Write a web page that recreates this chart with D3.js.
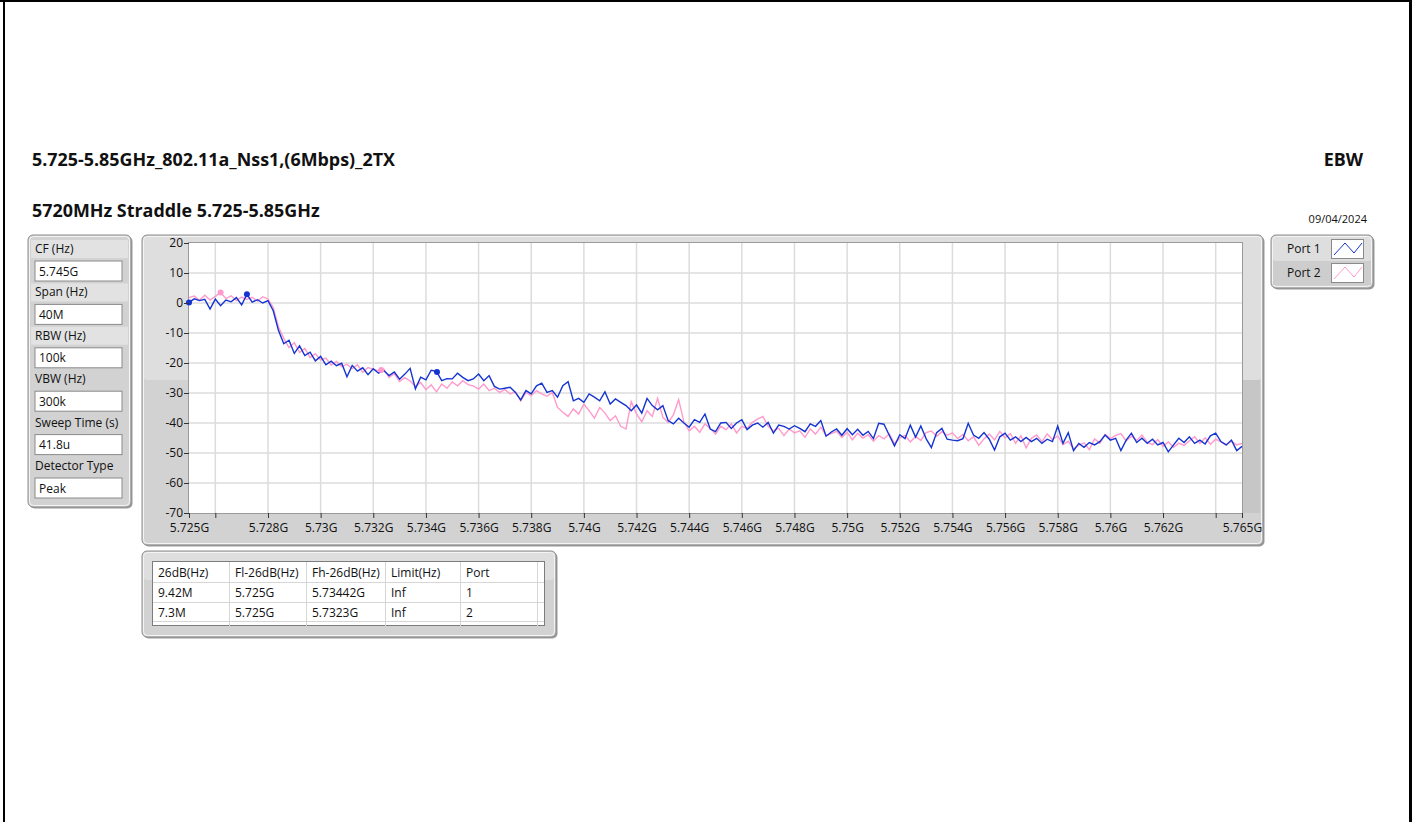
<!DOCTYPE html>
<html>
<head>
<meta charset="utf-8">
<script src="https://cdn.jsdelivr.net/npm/d3@7"></script>
<style>
body{margin:0;background:#fff;}
text{font-family:"Open Sans",sans-serif;fill:#111;}
</style>
</head>
<body>
<svg id="chart"></svg>
<script>
// sweep: start frequency and step (GHz), one value per step
var fStart=5.725, fStep=0.0002;

var port1=[
0.2,1.4,0.8,1.2,-2.0,1.3,-0.9,1.0,0.4,1.8,
-0.6,2.9,0.3,1.1,0.0,0.8,-2.6,-9.2,-13.6,-12.4,
-16.8,-14.3,-17.5,-16.4,-19.3,-17.8,-20.6,-19.4,-20.9,-20.1,
-24.6,-20.8,-22.7,-21.6,-23.9,-21.9,-23.4,-22.5,-24.2,-23.0,
-25.4,-23.7,-21.8,-28.6,-24.7,-25.6,-22.4,-22.8,-25.9,-25.2,
-25.3,-23.4,-24.8,-25.9,-25.3,-23.7,-25.9,-24.2,-27.8,-28.7,
-28.4,-28.1,-29.8,-32.3,-29.2,-30.3,-27.6,-26.7,-29.8,-29.2,
-31.4,-27.6,-26.2,-32.6,-31.8,-33.1,-30.3,-31.4,-32.6,-29.6,
-33.7,-32.0,-33.1,-34.2,-35.9,-34.0,-36.7,-31.8,-34.2,-35.6,
-34.2,-39.2,-40.3,-38.4,-40.0,-41.4,-38.9,-39.8,-37.0,-42.0,
-42.9,-40.0,-39.8,-41.8,-40.0,-38.9,-42.2,-40.7,-40.0,-41.4,
-39.8,-43.4,-40.7,-41.1,-42.0,-40.9,-41.8,-42.9,-40.3,-41.1,
-39.2,-44.4,-43.0,-42.0,-44.1,-41.9,-43.9,-42.1,-44.1,-42.8,
-45.2,-40.1,-40.4,-44.1,-47.6,-43.9,-45.2,-40.7,-44.7,-41.0,
-45.2,-48.2,-43.2,-41.8,-45.4,-45.7,-45.9,-45.2,-40.1,-44.0,
-45.1,-43.2,-45.4,-49.0,-44.6,-43.4,-45.7,-44.6,-46.2,-44.8,
-46.2,-45.1,-46.8,-45.4,-46.2,-41.0,-46.8,-43.2,-49.2,-46.8,
-48.1,-46.5,-47.3,-46.2,-44.0,-45.7,-45.1,-49.2,-45.7,-43.4,
-46.5,-45.1,-46.8,-45.4,-47.3,-46.5,-49.6,-47.3,-45.1,-46.5,
-44.6,-46.8,-45.7,-47.0,-44.3,-43.4,-46.2,-47.3,-45.7,-49.2,
-47.8];

var port2=[
1.8,2.3,0.9,2.6,1.0,2.2,3.5,1.5,2.4,0.8,
2.0,1.2,1.9,0.6,2.1,1.3,-1.5,-8.0,-11.8,-14.9,
-13.2,-16.5,-15.1,-18.2,-16.9,-19.0,-18.4,-20.7,-19.5,-21.2,
-20.4,-21.9,-20.6,-23.1,-21.5,-22.1,-22.6,-22.0,-24.8,-23.5,
-26.2,-24.9,-26.0,-27.8,-26.5,-28.9,-27.3,-29.6,-27.0,-28.4,
-26.3,-27.6,-25.9,-27.2,-27.6,-28.7,-27.0,-29.2,-28.4,-29.8,
-28.9,-30.3,-29.6,-32.6,-29.8,-30.9,-29.2,-30.3,-31.1,-29.8,
-34.8,-36.4,-37.8,-35.3,-37.0,-33.7,-35.9,-38.4,-34.8,-36.7,
-39.2,-37.6,-41.1,-42.0,-32.9,-37.0,-39.6,-35.9,-37.8,-31.8,
-38.1,-39.8,-37.3,-32.2,-39.6,-42.6,-41.1,-43.1,-40.3,-41.8,
-43.7,-41.1,-42.2,-40.3,-43.3,-41.1,-41.8,-39.8,-38.7,-37.8,
-41.1,-42.6,-41.8,-44.2,-42.0,-43.3,-42.6,-44.8,-42.0,-43.7,
-41.4,-44.2,-43.5,-42.8,-44.8,-43.1,-45.6,-43.4,-45.0,-43.9,
-46.1,-44.2,-45.3,-43.6,-46.9,-45.0,-44.1,-46.3,-44.5,-45.8,
-43.2,-42.7,-44.4,-42.9,-44.1,-43.3,-45.2,-43.8,-45.9,-44.6,
-47.4,-45.3,-43.7,-45.6,-42.8,-44.9,-43.5,-46.8,-44.2,-48.3,
-45.1,-44.0,-46.2,-43.6,-45.5,-44.3,-47.2,-46.1,-48.7,-47.4,
-46.6,-48.9,-45.3,-46.7,-43.8,-45.2,-44.1,-43.5,-46.0,-44.4,
-45.8,-44.0,-46.4,-47.2,-45.5,-47.8,-46.3,-48.1,-46.7,-47.5,
-45.9,-44.6,-46.8,-44.9,-47.1,-45.4,-46.3,-47.4,-46.1,-47.3,
-46.8];

// peak and -26 dB markers
var markers1=[{f:5.725,v:0.2},{f:5.7272,v:2.9},{f:5.73442,v:-23.0}];
var markers2=[{f:5.7262,v:3.5},{f:5.7323,v:-22.3}];

var yTicks=[20,10,0,-10,-20,-30,-40,-50,-60,-70];
var xTicks=[5.725,5.726,5.728,5.73,5.732,5.734,5.736,5.738,5.74,5.742,5.744,5.746,5.748,5.75,5.752,5.754,5.756,5.758,5.76,5.762,5.764,5.765];
var xUnlabeled=[5.726,5.764];
var xGrid=[5.726,5.728,5.73,5.732,5.734,5.736,5.738,5.74,5.742,5.744,5.746,5.748,5.75,5.752,5.754,5.756,5.758,5.76,5.762,5.764];

var paramLabels=["CF (Hz)","Span (Hz)","RBW (Hz)","VBW (Hz)","Sweep Time (s)","Detector Type"];
var paramValues=["5.745G","40M","100k","300k","41.8u","Peak"];

var legendNames=["Port 1","Port 2"];
var colors=["#1434d2","#ff9acb"];

var tableHead=["26dB(Hz)","Fl-26dB(Hz)","Fh-26dB(Hz)","Limit(Hz)","Port"];
var tableRows=[["9.42M","5.725G","5.73442G","Inf","1"],["7.3M","5.725G","5.7323G","Inf","2"]];

var W=1415, H=822;
var svg=d3.select("#chart").attr("width",W).attr("height",H);

// page frame
svg.append("rect").attr("x",0).attr("y",0).attr("width",W).attr("height",H).attr("fill","#fff");
svg.append("line").attr("x1",0).attr("x2",1412).attr("y1",1).attr("y2",1).attr("stroke","#000").attr("stroke-width",2);
svg.append("line").attr("x1",4).attr("x2",4).attr("y1",0).attr("y2",H).attr("stroke","#000").attr("stroke-width",2);
svg.append("line").attr("x1",1410.5).attr("x2",1410.5).attr("y1",0).attr("y2",H).attr("stroke","#000").attr("stroke-width",3);

// titles
svg.append("text").attr("x",32).attr("y",166).text("5.725-5.85GHz_802.11a_Nss1,(6Mbps)_2TX")
  .style("font-size","17.9px").style("font-weight","700");
svg.append("text").attr("x",1363).attr("y",166).attr("text-anchor","end").text("EBW")
  .style("font-size","17.9px").style("font-weight","700");
svg.append("text").attr("x",32).attr("y",217).text("5720MHz Straddle 5.725-5.85GHz")
  .style("font-size","17.9px").style("font-weight","700");
svg.append("text").attr("x",1367).attr("y",223).attr("text-anchor","end").text("09/04/2024")
  .style("font-size","11px");

// grey LabVIEW-like panel
var panel=function(x,y,w,h,split)
{
  svg.append("rect").attr("x",x+1.5).attr("y",y+1.5).attr("width",w).attr("height",h)
    .attr("rx",5).attr("fill","#9a9a9a");
  svg.append("rect").attr("x",x).attr("y",y).attr("width",w).attr("height",h)
    .attr("rx",5).attr("fill","#d2d2d2").attr("stroke","#8e8e8e");
  if(split)
    svg.append("rect").attr("x",x+2).attr("y",y+2).attr("width",w-4).attr("height",split-y-2)
      .attr("rx",3).attr("fill","#dedede");
  svg.append("rect").attr("x",x+1.5).attr("y",y+1.5).attr("width",w-3).attr("height",h-3)
    .attr("rx",4).attr("fill","none").attr("stroke","#f4f4f4");
}

// parameter panel
panel(28,235,103,272,0);
var pg=svg.append("g");
paramLabels.forEach(function(d,i){
  var top=240+i*43.4;
  if(i<3)
    pg.append("rect").attr("x",31).attr("y",top).attr("width",97).attr("height",18).attr("fill","#e2e2e2");
  pg.append("text").attr("x",35).attr("y",top+13).text(d).style("font-size","12px");
  pg.append("rect").attr("x",35).attr("y",top+21).attr("width",87).attr("height",20)
    .attr("fill","#fff").attr("stroke","#8a8a8a");
  pg.append("text").attr("x",39).attr("y",top+35.5).text(paramValues[i]).style("font-size","12px");
});

// graph panel
panel(142,235,1121,310,380);

var margin={left:189,right:1242,top:243,bottom:513};
var x=d3.scaleLinear().domain([5.725,5.765]).range([margin.left,margin.right]);
var y=d3.scaleLinear().domain([-70,20]).range([margin.bottom,margin.top]);

// right strip beside the plot
svg.append("rect").attr("x",1243).attr("y",380).attr("width",17).attr("height",133).attr("fill","#c6c6c6");

svg.append("rect").attr("x",margin.left).attr("y",margin.top)
  .attr("width",margin.right-margin.left).attr("height",margin.bottom-margin.top)
  .attr("fill","#fff");

var grid=svg.append("g");
grid.selectAll("line.v").data(xGrid).enter().append("line").attr("class","v")
  .attr("x1",function(d){return x(d);}).attr("x2",function(d){return x(d);})
  .attr("y1",margin.top).attr("y2",margin.bottom)
  .attr("stroke","#dcdcdc").attr("stroke-width",1.5);
grid.selectAll("line.h").data(yTicks.slice(1,-1)).enter().append("line").attr("class","h")
  .attr("x1",margin.left).attr("x2",margin.right)
  .attr("y1",function(d){return y(d);}).attr("y2",function(d){return y(d);})
  .attr("stroke","#dcdcdc").attr("stroke-width",1.5);

svg.append("rect").attr("x",margin.left-0.5).attr("y",margin.top-0.5)
  .attr("width",margin.right-margin.left+1).attr("height",margin.bottom-margin.top+1)
  .attr("fill","none").attr("stroke","#9a9a9a");

var line=d3.line()
  .x(function(d,i){return x(fStart+i*fStep);})
  .y(function(d){return y(d);});

svg.append("path").datum(port2).attr("d",line)
  .attr("fill","none").attr("stroke",colors[1]).attr("stroke-width",1.4);
svg.append("path").datum(port1).attr("d",line)
  .attr("fill","none").attr("stroke",colors[0]).attr("stroke-width",1.4);

svg.selectAll("circle.m2").data(markers2).enter().append("circle").attr("class","m2")
  .attr("cx",function(d){return x(d.f);}).attr("cy",function(d){return y(d.v);})
  .attr("r",3).attr("fill",colors[1]);
svg.selectAll("circle.m1").data(markers1).enter().append("circle").attr("class","m1")
  .attr("cx",function(d){return x(d.f);}).attr("cy",function(d){return y(d.v);})
  .attr("r",3).attr("fill",colors[0]);

// axes
var yAxis=svg.append("g").attr("transform","translate("+margin.left+",0)")
  .call(d3.axisLeft(y).tickValues(yTicks).tickSize(5).tickPadding(1)
    .tickFormat(function(d){return String(d);}));
var xAxis=svg.append("g").attr("transform","translate(0,"+margin.bottom+")")
  .call(d3.axisBottom(x).tickValues(xTicks).tickSize(5).tickPadding(5)
    .tickFormat(function(d){
      if(xUnlabeled.indexOf(d)>=0) return "";
      return (+d.toFixed(3))+"G";}));
[xAxis,yAxis].forEach(function(a){
  a.select(".domain").remove();
  a.selectAll(".tick line").attr("stroke","#333");
  a.selectAll(".tick text").style("font-size","12px").style("font-family","\"Open Sans\",sans-serif").attr("fill","#111");
});

// legend
panel(1271,235,102,53,261);
legendNames.forEach(function(d,i){
  var top=238+i*24;
  if(i==1)
    svg.append("rect").attr("x",1273).attr("y",top-1).attr("width",98).attr("height",24).attr("fill","#cdcdcd");
  svg.append("text").attr("x",1287).attr("y",top+15).text(d).style("font-size","12px");
  svg.append("rect").attr("x",1331.5).attr("y",top+1.5).attr("width",32).attr("height",19)
    .attr("fill","#fff").attr("stroke","#8a8a8a");
  svg.append("polyline")
    .attr("points",[[1334,top+17],[1345,top+5],[1354,top+15],[1362,top+5]].join(" "))
    .attr("fill","none").attr("stroke",colors[i]).attr("stroke-width",1);
});

// result table
panel(142,551,414,86,580);
var colX=[152,229,306,385,460,537,545];
var rowY=[562,582,602,621,626];
var tg=svg.append("g");
tg.append("rect").attr("x",152.5).attr("y",561.5).attr("width",392).attr("height",64)
  .attr("fill","#fff").attr("stroke","#7c7c7c");
colX.slice(1,-1).forEach(function(cx){
  tg.append("line").attr("x1",cx+0.5).attr("x2",cx+0.5).attr("y1",562).attr("y2",626)
    .attr("stroke","#d6d6d6");
});
rowY.slice(1,-1).forEach(function(ry){
  tg.append("line").attr("x1",153).attr("x2",544).attr("y1",ry+0.5).attr("y2",ry+0.5)
    .attr("stroke","#d6d6d6");
});
[tableHead].concat(tableRows).forEach(function(r,j){
  r.forEach(function(c,i){
    tg.append("text").attr("x",colX[i]+6).attr("y",rowY[j]+14.5).text(c).style("font-size","12px");
  });
});
</script>
</body>
</html>
